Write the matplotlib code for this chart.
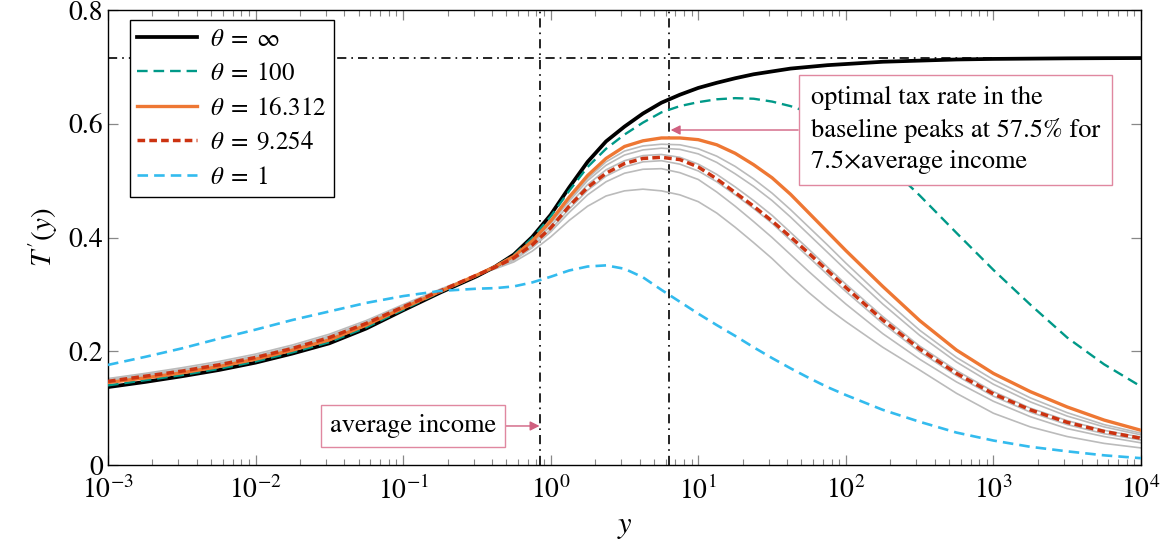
import matplotlib
matplotlib.use("Agg")
import matplotlib.pyplot as plt
from matplotlib.ticker import LogLocator, FixedLocator, FuncFormatter

# income grid (finer where the curves bend)
income = [0.001, 0.001778, 0.003162, 0.005623, 0.01, 0.01778, 0.03162, 0.05623,
          0.1, 0.1778, 0.3162, 0.4217, 0.5623, 0.7499, 1.0, 1.334, 1.778, 2.371,
          3.162, 4.217, 5.623, 7.499, 10.0, 13.34, 17.78, 23.71, 31.62, 42.17,
          56.23, 74.99, 100.0, 177.8, 316.2, 562.3,
          1000.0, 1778.0, 3162.0, 5623.0, 10000.0]

rate_inf = [0.137, 0.146, 0.156, 0.167, 0.180, 0.196, 0.214, 0.240,
            0.272, 0.303, 0.332, 0.349, 0.370, 0.401, 0.440, 0.488, 0.533, 0.569,
            0.595, 0.618, 0.637, 0.651, 0.663, 0.672, 0.680, 0.687, 0.692, 0.697,
            0.700, 0.703, 0.705, 0.709, 0.711, 0.713,
            0.714, 0.7145, 0.715, 0.7153, 0.7155]
rate_100 = [0.140, 0.149, 0.158, 0.169, 0.182, 0.198, 0.216, 0.242,
            0.273, 0.304, 0.333, 0.349, 0.369, 0.399, 0.437, 0.482, 0.524, 0.556,
            0.581, 0.602, 0.620, 0.631, 0.638, 0.643, 0.645, 0.644, 0.639, 0.631,
            0.620, 0.606, 0.588, 0.536, 0.474, 0.408,
            0.343, 0.282, 0.224, 0.177, 0.138]
rate_16 = [0.145, 0.153, 0.162, 0.173, 0.186, 0.202, 0.220, 0.246,
           0.276, 0.305, 0.334, 0.349, 0.367, 0.394, 0.429, 0.471, 0.509, 0.539,
           0.560, 0.570, 0.575, 0.575, 0.572, 0.563, 0.548, 0.528, 0.505, 0.476,
           0.443, 0.410, 0.377, 0.314, 0.254, 0.202,
           0.161, 0.129, 0.102, 0.079, 0.061]
rate_9 = [0.147, 0.156, 0.165, 0.176, 0.189, 0.205, 0.224, 0.249,
          0.278, 0.306, 0.334, 0.348, 0.364, 0.387, 0.417, 0.455, 0.488, 0.513,
          0.530, 0.539, 0.541, 0.537, 0.524, 0.503, 0.479, 0.455, 0.429, 0.401,
          0.372, 0.342, 0.312, 0.255, 0.204, 0.161,
          0.125, 0.097, 0.075, 0.059, 0.047]
rate_1 = [0.176, 0.190, 0.205, 0.222, 0.238, 0.255, 0.270, 0.285,
          0.297, 0.306, 0.310, 0.311, 0.314, 0.321, 0.331, 0.342, 0.349, 0.351,
          0.345, 0.330, 0.308, 0.287, 0.266, 0.246, 0.227, 0.207, 0.188, 0.170,
          0.153, 0.137, 0.123, 0.097, 0.076, 0.057,
          0.043, 0.032, 0.024, 0.017, 0.012]

# other calibrations (grey, no legend entry)
grey_rates = [
    [0.145, 0.154, 0.163, 0.174, 0.187, 0.203, 0.221, 0.246,
     0.277, 0.305, 0.334, 0.349, 0.367, 0.393, 0.427, 0.467, 0.504, 0.533,
     0.552, 0.561, 0.564, 0.563, 0.556, 0.543, 0.525, 0.503, 0.478, 0.449,
     0.418, 0.387, 0.355, 0.294, 0.237, 0.189,
     0.150, 0.118, 0.092, 0.071, 0.056],
    [0.146, 0.154, 0.163, 0.174, 0.187, 0.203, 0.222, 0.247,
     0.277, 0.305, 0.334, 0.349, 0.366, 0.392, 0.425, 0.464, 0.500, 0.527,
     0.545, 0.554, 0.557, 0.555, 0.547, 0.532, 0.512, 0.490, 0.465, 0.436,
     0.405, 0.374, 0.343, 0.283, 0.228, 0.181,
     0.142, 0.111, 0.086, 0.067, 0.053],
    [0.146, 0.155, 0.164, 0.175, 0.188, 0.204, 0.223, 0.248,
     0.278, 0.306, 0.334, 0.348, 0.365, 0.389, 0.420, 0.458, 0.493, 0.519,
     0.535, 0.544, 0.546, 0.541, 0.529, 0.511, 0.489, 0.465, 0.439, 0.409,
     0.379, 0.348, 0.318, 0.261, 0.209, 0.166,
     0.129, 0.100, 0.078, 0.061, 0.049],
    [0.148, 0.157, 0.166, 0.177, 0.190, 0.206, 0.225, 0.250,
     0.279, 0.306, 0.334, 0.347, 0.362, 0.385, 0.414, 0.450, 0.483, 0.508,
     0.524, 0.533, 0.535, 0.529, 0.517, 0.498, 0.475, 0.451, 0.425, 0.395,
     0.365, 0.335, 0.305, 0.249, 0.199, 0.157,
     0.121, 0.093, 0.071, 0.055, 0.044],
    [0.150, 0.159, 0.168, 0.179, 0.192, 0.208, 0.227, 0.251,
     0.280, 0.307, 0.334, 0.346, 0.360, 0.382, 0.410, 0.444, 0.475, 0.498,
     0.513, 0.520, 0.521, 0.514, 0.502, 0.480, 0.455, 0.428, 0.400, 0.370,
     0.340, 0.311, 0.283, 0.231, 0.186, 0.146,
     0.112, 0.085, 0.064, 0.050, 0.039],
    [0.152, 0.161, 0.171, 0.182, 0.195, 0.211, 0.230, 0.254,
     0.282, 0.309, 0.334, 0.345, 0.357, 0.376, 0.401, 0.430, 0.455, 0.473,
     0.482, 0.485, 0.482, 0.475, 0.463, 0.443, 0.418, 0.391, 0.363, 0.332,
     0.303, 0.276, 0.252, 0.207, 0.167, 0.126,
     0.091, 0.067, 0.050, 0.038, 0.030],
]

avg_income = 0.84
peak_income = 6.3
top_rate = 0.7155

plt.rcParams["font.family"] = ["STIXGeneral", "DejaVu Serif"]
plt.rcParams["mathtext.fontset"] = "stix"

fig = plt.figure(figsize=(11.69, 5.52), dpi=100)
ax = fig.add_axes([108 / 1169, 87 / 552, 1033 / 1169, 455 / 552])

for g in grey_rates:
    ax.plot(income, g, color="#BBBBBB", lw=1.2, zorder=2)

ax.plot(income, rate_inf, color="black", lw=2.7, label=r"$\theta\;=\;\infty$", zorder=3)
ax.plot(income, rate_100, color="#009988", lw=1.7, dashes=(4.5, 2.5), label=r"$\theta\;=\;100$", zorder=3)
ax.plot(income, rate_16, color="#EE7733", lw=2.4, label=r"$\theta\;=\;16.312$", zorder=3)
ax.plot(income, rate_9, color="#CC3311", lw=2.5, dashes=(2.2, 1.2), label=r"$\theta\;=\;9.254$", zorder=3)
ax.plot(income, rate_1, color="#33BBEE", lw=1.9, dashes=(4, 2.3), label=r"$\theta\;=\;1$", zorder=3)

dashdot = (0, (5.5, 3, 1, 3))
ax.axvline(avg_income, color="black", lw=1.2, ls=dashdot, zorder=1)
ax.axvline(peak_income, color="black", lw=1.2, ls=dashdot, zorder=1)
ax.axhline(top_rate, color="black", lw=1.2, ls=dashdot, zorder=1)

ax.set_xscale("log")
ax.set_xlim(1e-3, 1e4)
ax.set_ylim(0, 0.8)
ax.xaxis.set_major_locator(LogLocator(base=10, numticks=20))
ax.xaxis.set_minor_locator(LogLocator(base=10, subs=range(2, 10), numticks=20))
ax.yaxis.set_major_locator(FixedLocator([0, 0.2, 0.4, 0.6, 0.8]))
ax.yaxis.set_major_formatter(FuncFormatter(lambda v, p: "0" if v == 0 else f"{v:.1f}"))

ax.tick_params(which="both", direction="in", top=True, right=True,
               color="#888888", labelsize=20)
ax.tick_params(which="major", length=7, width=0.9)
ax.tick_params(which="minor", length=4.5, width=0.8)
ax.tick_params(axis="x", pad=8)
for s in ax.spines.values():
    s.set_color("black")
    s.set_linewidth(1.0)

ax.set_xlabel(r"$y$", fontsize=22, labelpad=6)
ax.set_ylabel(r"$T'(y)$", fontsize=21, labelpad=6)

leg = ax.legend(loc="upper left", bbox_to_anchor=(0.021, 0.978), borderaxespad=0,
                fontsize=18, fancybox=False, edgecolor="black", framealpha=1,
                handlelength=2.4, handletextpad=0.5, labelspacing=0.42,
                borderpad=0.3)
leg.get_frame().set_linewidth(1.0)
leg.set_zorder(5)

pink = "#E088A0"
ax.annotate("average income", xy=(avg_income, 0.0686), xytext=(0.1167, 0.0686),
            ha="center", va="center", fontsize=19, zorder=6,
            bbox=dict(boxstyle="square,pad=0.35", fc="white", ec=pink, lw=1),
            arrowprops=dict(arrowstyle="-|>", color="#D06080", lw=1,
                            mutation_scale=14, shrinkA=0, shrinkB=0))
ax.annotate("optimal tax rate in the\nbaseline peaks at 57.5% for\n7.5\u00d7average income",
            xy=(6.5, 0.589), xytext=(550, 0.589),
            ha="center", va="center", ma="left", fontsize=19, linespacing=1.38,
            zorder=6,
            bbox=dict(boxstyle="square,pad=0.45", fc="white", ec=pink, lw=1),
            arrowprops=dict(arrowstyle="-|>", color="#D06080", lw=1,
                            mutation_scale=14, shrinkA=0, shrinkB=0))

fig.savefig("out.png", dpi=100)
